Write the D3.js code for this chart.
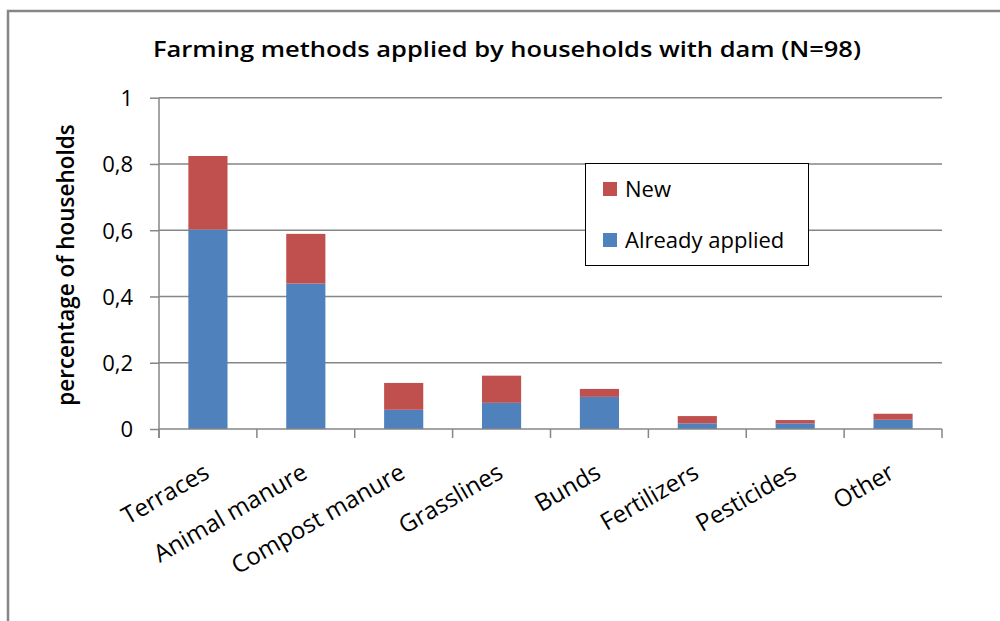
<!doctype html>
<meta charset="utf-8">
<title>Farming methods</title>
<script src="https://cdn.jsdelivr.net/npm/d3@7"></script>
<style>
  body { margin: 0; background: #fff; }
  text { font-family: "Open Sans", sans-serif; fill: #000; }
</style>
<body>
<div id="chart"></div>
<script>

// data (share of households, N=98)
var categories = ['Terraces', 'Animal manure', 'Compost manure', 'Grasslines', 'Bunds', 'Fertilizers', 'Pesticides', 'Other'];
var alreadyApplied = [0.602, 0.439, 0.058, 0.079, 0.097, 0.017, 0.017, 0.028];
var newlyApplied   = [0.222, 0.150, 0.081, 0.082, 0.024, 0.022, 0.010, 0.018];
var yTicks = [0, 0.2, 0.4, 0.6, 0.8, 1];
var seriesNames = ['New', 'Already applied'];

var width = 1000, height = 621
  , plotLeft = 159, plotRight = 942, plotTop = 97.7, plotBottom = 429
  , blue = '#4f81bd', red = '#c0504d', grey = '#868686';

var svg = d3.select('#chart').append('svg')
  .attr('width', width)
  .attr('height', height);

// outer chart frame (runs past the right and bottom edges)
svg.append('rect')
  .attr('x', 8).attr('y', 11)
  .attr('width', 1100).attr('height', 700)
  .style('fill', 'none').style('stroke', grey).style('stroke-width', 2.5);

var x = d3.scaleBand().domain(categories).range([plotLeft, plotRight])
  .paddingInner(0.6).paddingOuter(0.3);
var y = d3.scaleLinear().domain([0, 1]).range([plotBottom, plotTop]);

// gridlines
svg.selectAll('line.grid')
  .data(yTicks.filter(function(d) { return d > 0 }))
  .enter().append('line')
  .attr('x1', plotLeft).attr('x2', plotRight)
  .attr('y1', function(d) { return y(d) })
  .attr('y2', function(d) { return y(d) })
  .style('stroke', grey).style('stroke-width', 1.5);

// y axis
var yAxis = svg.append('g')
  .attr('transform', 'translate(' + plotLeft + ',0)')
  .call(d3.axisLeft(y).tickValues(yTicks).tickSize(9).tickPadding(17)
    .tickFormat(function(d) { return String(d).replace('.', ',') }));
yAxis.select('.domain').attr('d', 'M0,' + plotTop + 'V' + (plotBottom + 9));
yAxis.selectAll('line, path').style('stroke', grey).style('stroke-width', 1.5);
yAxis.selectAll('text').style('font-size', '22px').style('font-family', '"Open Sans", sans-serif')
  .attr('dy', '0.36em');

// stacked bars
var rows = categories.map(function(c, i) {
  return { cat: c, base: alreadyApplied[i], add: newlyApplied[i] };
});

svg.selectAll('rect.base').data(rows).enter().append('rect')
  .attr('class', 'base')
  .attr('x', function(d) { return x(d.cat) })
  .attr('width', x.bandwidth())
  .attr('y', function(d) { return y(d.base) })
  .attr('height', function(d) { return y(0) - y(d.base) })
  .style('fill', blue);

svg.selectAll('rect.add').data(rows).enter().append('rect')
  .attr('class', 'add')
  .attr('x', function(d) { return x(d.cat) })
  .attr('width', x.bandwidth())
  .attr('y', function(d) { return y(d.base + d.add) })
  .attr('height', function(d) { return y(d.base) - y(d.base + d.add) })
  .style('fill', red);

// x axis: baseline plus ticks on category boundaries
svg.append('line')
  .attr('x1', plotLeft).attr('x2', plotRight)
  .attr('y1', y(0)).attr('y2', y(0))
  .style('stroke', grey).style('stroke-width', 1.5);

var step = x.step();
svg.selectAll('line.xtick')
  .data(d3.range(categories.length + 1))
  .enter().append('line')
  .attr('x1', function(i) { return plotLeft + i * step })
  .attr('x2', function(i) { return plotLeft + i * step })
  .attr('y1', y(0)).attr('y2', y(0) + 9)
  .style('stroke', grey).style('stroke-width', 1.5);

svg.selectAll('text.xlabel').data(categories).enter().append('text')
  .attr('transform', function(d) {
    return 'translate(' + (x(d) + x.bandwidth() / 2 + 3) + ',' + (y(0) + 48) + ') rotate(-30)';
  })
  .attr('text-anchor', 'end')
  .style('font-size', '24px')
  .text(function(d) { return d });

// title
svg.append('text')
  .attr('x', 507).attr('y', 57)
  .attr('text-anchor', 'middle')
  .attr('textLength', 708).attr('lengthAdjust', 'spacingAndGlyphs')
  .style('font-size', '21px').style('font-weight', 600)
  .text('Farming methods applied by households with dam (N=98)');

// y axis title
svg.append('text')
  .attr('transform', 'translate(74,265) rotate(-90)')
  .attr('text-anchor', 'middle')
  .style('font-size', '22.5px').style('font-weight', 600)
  .text('percentage of households');

// legend
var legend = svg.append('g');
legend.append('rect')
  .attr('x', 585.5).attr('y', 163.5)
  .attr('width', 223).attr('height', 102)
  .style('fill', '#fff').style('stroke', '#000').style('stroke-width', 1);

var legendColors = [red, blue];
legend.selectAll('g.item').data(seriesNames).enter().append('g')
  .attr('transform', function(d, i) { return 'translate(603,' + (182 + i * 51) + ')' })
  .each(function(d, i) {
    var g = d3.select(this);
    g.append('rect').attr('width', 14).attr('height', 14).style('fill', legendColors[i]);
    g.append('text').attr('x', 22).attr('y', 15).style('font-size', '22px').text(d);
  });

</script>
</body>
